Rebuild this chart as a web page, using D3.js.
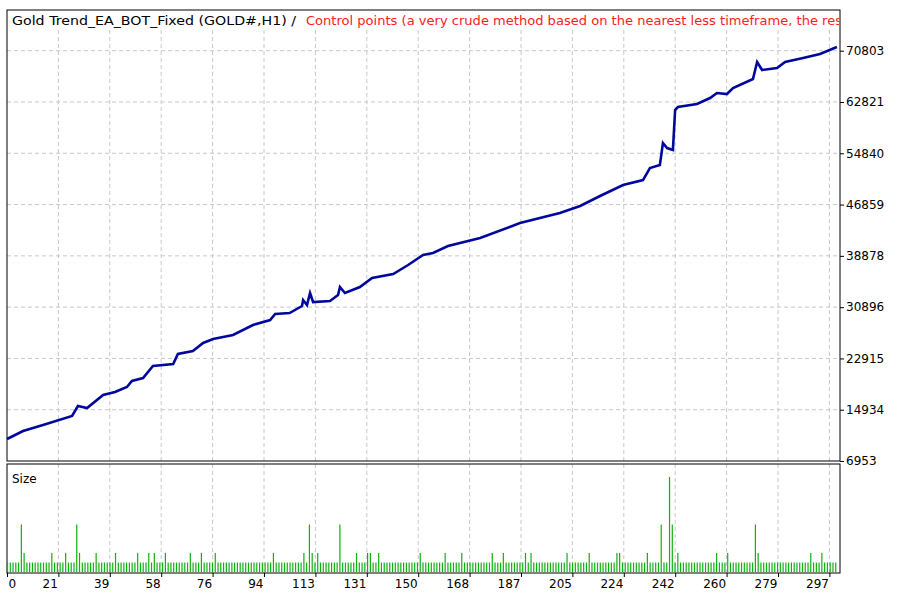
<!DOCTYPE html>
<html><head><meta charset="utf-8">
<script src="https://cdn.jsdelivr.net/npm/d3@7"></script>
<style>body{margin:0;background:#fff}text{font-family:"DejaVu Sans",Arial,sans-serif}</style>
</head><body><svg id="c" width="911" height="600"></svg>
<script>
// equity curve: trade index and balance
const eqIdx = [0,5.8,13,23.5,25.6,28.9,34.7,39,43.3,45.1,49.1,52.7,60,61.7,67.1,70.8,74.4,81.6,88.8,95,96.8,102,106.5,106.9,108.3,109.4,110.5,116.6,119.5,120.2,122,127.4,131.8,139.4,144.8,150.2,153.8,159.2,170.8,185.2,199.6,206.9,214.1,222.4,229.6,232.1,235.7,236.8,238.3,240.4,241.2,242.2,249.1,253.8,256.3,259.9,262.1,269.3,270.8,272.6,278,280.9,287.4,293.5,299.6];
const eqVal = [10376,11621,12555,13955,15511,15200,17223,17689,18467,19401,19868,21735,22046,23602,24069,25314,25936,26559,28115,28893,29826,29982,31071,32005,31227,33094,31693,31849,32783,34027,33094,34027,35428,36050,37450,39006,39318,40407,41652,43986,45542,46631,48187,49899,50677,52544,53010,56434,55656,55344,61568,62035,62502,63436,64214,64058,64992,66392,69037,67792,68103,69037,69660,70282,71371];
// size panel: default lot 1, exceptions
const bigIdx = [5,25,109,120,236,240,270];
const spikeIdx = [239];
const midIdx = [6,16,21,26,32,39,47,51,53,57,66,70,75,96,107,110,112,126,130,131,134,149,158,164,175,179,187,189,202,210,220,221,231,242,256,260,271,290,294];
const yTicks = [6953,14934,22915,30896,38878,46859,54840,62821,70803];
const xLabels = ["0","21","39","58","76","94","113","131","150","168","187","205","224","242","260","279","297"];
const nTrades = 300;

const sizes = d3.range(nTrades).map(i => spikeIdx.includes(i)?10 : bigIdx.includes(i)?5 : midIdx.includes(i)?2 : 1);

const svg = d3.select("#c");
const L=7,R=840,T1=10,B1=461,T2=464,B2=573;
const x = d3.scaleLinear().domain([0,300]).range([L,L+300*2.77]);
const y = d3.scaleLinear().domain([6953,70803]).range([B1,50.7]);
const ys = d3.scaleLinear().domain([0,10]).range([B2-1,472]);
const tickPos = xLabels.map((_,k)=>k*(51.4/2.77));

const g = svg.append("g");
g.selectAll(".hg").data(yTicks.slice(1)).join("line").attr("x1",L).attr("x2",R).attr("y1",d=>y(d)).attr("y2",d=>y(d))
 .attr("stroke","#c8c8c8").attr("stroke-dasharray","4,3");
[[T1+20,B1],[T2,B2]].forEach(([a,b])=>{
 g.selectAll(null).data(tickPos.slice(1)).join("line").attr("x1",d=>x(d)).attr("x2",d=>x(d)).attr("y1",a).attr("y2",b)
  .attr("stroke","#c8c8c8").attr("stroke-dasharray","4,3");
});
svg.append("rect").attr("x",L).attr("y",T1).attr("width",R-L).attr("height",B1-T1).attr("fill","none").attr("stroke","#000");
svg.append("rect").attr("x",L).attr("y",T2).attr("width",R-L).attr("height",B2-T2).attr("fill","none").attr("stroke","#000");

svg.append("clipPath").attr("id","cp").append("rect").attr("x",0).attr("y",0).attr("width",R-1).attr("height",600);
const tg = svg.append("g").attr("clip-path","url(#cp)");
tg.append("text").attr("x",12).attr("y",25).attr("font-size",12.5).attr("fill","#000")
 .attr("textLength",284).attr("lengthAdjust","spacingAndGlyphs").text("Gold Trend_EA_BOT_Fixed (GOLD#,H1) /");
tg.append("text").attr("x",306).attr("y",25).attr("font-size",12.5).attr("fill","#ff2020")
 .attr("textLength",536).attr("lengthAdjust","spacingAndGlyphs").text("Control points (a very crude method based on the nearest less timeframe, the res");

const pts = eqIdx.map((d,i)=>[d,eqVal[i]]);
svg.append("path").datum(pts).attr("d",d3.line().x(d=>x(d[0])).y(d=>y(d[1])))
 .attr("fill","none").attr("stroke","#00089c").attr("stroke-width",2.6);

const ya = d3.axisRight(y).tickValues(yTicks).tickSize(4).tickFormat(d=>d);
const yaG = svg.append("g").attr("transform",`translate(${R},0)`).call(ya);
yaG.select(".domain").remove();
yaG.selectAll("text").attr("font-size",12).attr("fill","#000").attr("x",6);
yaG.selectAll("line").attr("stroke","#000");

svg.append("g").selectAll("line").data(sizes).join("line")
 .attr("x1",(d,i)=>x(i)+0.5).attr("x2",(d,i)=>x(i)+0.5).attr("y1",ys(0)).attr("y2",d=>ys(d*0.95))
 .attr("stroke","#10b010").attr("stroke-width",1.2);
svg.append("text").attr("x",12).attr("y",483).attr("font-size",12).text("Size");

const xa = d3.axisBottom(x).tickValues(tickPos).tickSize(4).tickFormat((d,i)=>xLabels[i]);
const xaG = svg.append("g").attr("transform",`translate(0,${B2})`).call(xa);
xaG.select(".domain").remove();
xaG.selectAll("line").attr("stroke","#000");
xaG.selectAll("text").attr("font-size",12).attr("fill","#000").attr("text-anchor","end").attr("x",-1).attr("y",6);
xaG.selectAll(".tick").filter((d,i)=>i===0).select("text").attr("text-anchor","start").attr("x",1);
</script></body></html>
